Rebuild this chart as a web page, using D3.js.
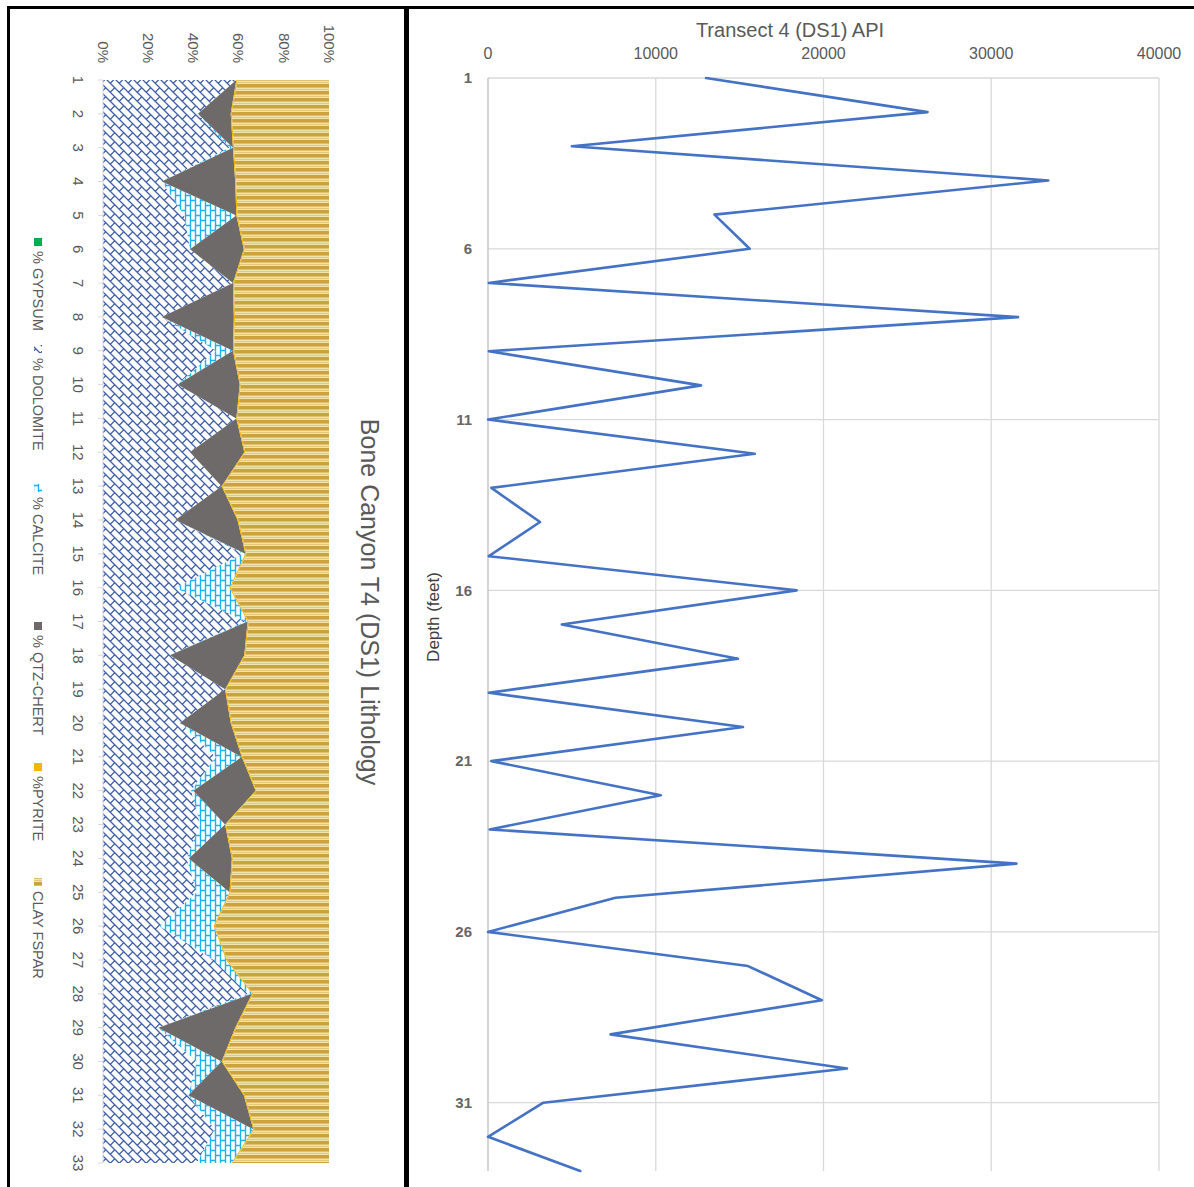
<!DOCTYPE html>
<html>
<head>
<meta charset="utf-8">
<script src="https://cdn.jsdelivr.net/npm/d3@7"></script>
<style>
  body { margin: 0; background: #fff; }
  svg { display: block; }
  text { font-family: "Liberation Sans", Arial, sans-serif; fill: #595959; }
</style>
</head>
<body>
<svg id="chart" width="1194" height="1187"></svg>
<script>
// ---- Lithology (percent of sample) by depth ----
const depths = [1,2,3,4,5,6,7,8,9,10,11,12,13,14,15,16,17,18,19,20,21,22,23,24,25,26,27,28,29,30,31,32,33];
const gypsum   = [0,0,0,0,0,0,0,0,0,0,0,0,0,0,0,0,0,0,0,0,0,0,0,0,0,0,0,0,0,0,0,0,0];
const dolomite = [59,42,56,26,36,38.5,57.5,26,50,33,59,38.5,52.5,32,62,32,63,29.6,54,34,50,39,43,37,41.5,25,49,64,24.5,41.5,37.8,49.5,41.5];
const calcite  = [0,0,1.5,0,23,0,0,0,7.5,0,0,0,0,0,1,24,1,0,0,0,11.4,1,11,1,14.5,24,5.5,2,0,11,0,17,15.5];
const qtzChert = [0,14.5,0,32.5,0,23.8,0,31.9,0,27.5,0,24,0,27.5,0,0,0,32.9,0,22.5,0,27.5,0,19,0,0,0,0,34,0,24.5,0,0];
const pyrite   = [0.5,0.5,0.5,0.5,0.5,0.5,0.5,0.5,0.5,0.5,0.5,0.5,0.5,0.5,0.5,0.5,0.5,0.5,0.5,0.5,0.5,0.5,0.5,0.5,0.5,0.5,0.5,0.5,0.5,0.5,0.5,0.5,0.5];
const clayFspar= [40.5,43,42,41,40.5,37.2,42,41.6,42,39,40.5,37,47,40,36.5,43.5,35.5,37,45.5,43,38.1,32,45.5,42.5,43.5,50.5,45,33.5,41,47,37.2,33,42.5];
const lithoNames = ["% GYPSUM","% DOLOMITE","% CALCITE","% QTZ-CHERT","%PYRITE","CLAY FSPAR"];
const pctTicks = [0,20,40,60,80,100];

// ---- API log by depth ----
const apiValues = [13000,26200,5000,33400,13500,15600,50,31600,50,12700,0,15900,200,3100,50,18400,4400,14900,50,15200,200,10300,100,31500,7600,0,15500,19900,7300,21400,3300,0,5500];
const apiTicks = [0,10000,20000,30000,40000];
const depthTicks = [1,6,11,16,21,26,31];

const svg = d3.select("#chart");
const defs = svg.append("defs");

// helper: draw a path in a pattern tile and its 8 neighbouring copies so it wraps seamlessly
function tiled(g, d, w, h, attrs) {
  for (const dx of [-w, 0, w]) for (const dy of [-h, 0, h]) {
    const p = g.append("path").attr("d", d).attr("transform", `translate(${dx},${dy})`).attr("fill", "none");
    for (const k in attrs) p.attr(k, attrs[k]);
  }
}

// dolomite: diagonal brick
{
  const s = 9;
  const pat = defs.append("pattern").attr("id", "patDol").attr("patternUnits", "userSpaceOnUse")
    .attr("width", s).attr("height", s);
  pat.append("rect").attr("width", s).attr("height", s).attr("fill", "#fff");
  tiled(pat, `M0,0L${s},${s}M${s*0.25},${s*0.25}L${s*0.75},${-s*0.25}`, s, s,
    { stroke: "#3f5fa8", "stroke-width": 1.3 });
}
// calcite: upright brick
{
  const w = 10, h = 10;
  const pat = defs.append("pattern").attr("id", "patCal").attr("patternUnits", "userSpaceOnUse")
    .attr("width", w).attr("height", h);
  pat.append("rect").attr("width", w).attr("height", h).attr("fill", "#fff");
  tiled(pat, `M0.5,0V${h}M5.5,0V${h}M0.5,0.5H5.5M5.5,5.5H10.5`, w, h,
    { stroke: "#1ab2f0", "stroke-width": 1.4 });
}
// clay / feldspar: banded horizontal stripes
{
  const pat = defs.append("pattern").attr("id", "patClay").attr("patternUnits", "userSpaceOnUse")
    .attr("width", 8).attr("height", 7);
  pat.append("rect").attr("width", 8).attr("height", 7).attr("fill", "#f1e3ac");
  pat.append("rect").attr("y", 0).attr("width", 8).attr("height", 3).attr("fill", "#c9a43c");
  pat.append("rect").attr("y", 3).attr("width", 8).attr("height", 1).attr("fill", "#dcc070");
  pat.append("rect").attr("y", 5).attr("width", 8).attr("height", 1).attr("fill", "#e2c97e");
}

const fills = ["#00b050", "url(#patDol)", "url(#patCal)", "#6e6a6a", "#f2b600", "url(#patClay)"];

// ================= Left panel: stacked lithology =================
const left = svg.append("g");
const xPct = d3.scaleLinear().domain([0, 100]).range([103, 329]);
const yDep = d3.scaleLinear().domain([1, 33]).range([80, 1163]);

const rows = depths.map((d, i) => ({
  depth: d, g: gypsum[i], dol: dolomite[i], cal: calcite[i], qtz: qtzChert[i], pyr: pyrite[i], clay: clayFspar[i]
}));
const keys = ["g", "dol", "cal", "qtz", "pyr", "clay"];
const stacked = d3.stack().keys(keys).offset(d3.stackOffsetExpand)(rows);

const area = d3.area()
  .y(d => yDep(d.data.depth))
  .x0(d => xPct(d[0] * 100))
  .x1(d => xPct(d[1] * 100));

left.selectAll("path.layer").data(stacked).join("path")
  .attr("class", "layer")
  .attr("d", area)
  .attr("fill", (d, i) => fills[i]);

// category axis (depth) along the left edge
left.append("line").attr("x1", 103).attr("x2", 103).attr("y1", yDep(1)).attr("y2", yDep(33))
  .attr("stroke", "#d9d9d9").attr("stroke-width", 1);
left.selectAll("line.dtick").data(depths).join("line").attr("class", "dtick")
  .attr("x1", 98).attr("x2", 103).attr("y1", d => yDep(d)).attr("y2", d => yDep(d))
  .attr("stroke", "#d9d9d9");
left.selectAll("text.dlab").data(depths).join("text").attr("class", "dlab")
  .attr("transform", d => `translate(78,${yDep(d)}) rotate(90)`)
  .attr("text-anchor", "middle").attr("dy", "0.35em")
  .style("font-size", "15px")
  .text(d => d);

// percent axis labels along the top
left.selectAll("text.plab").data(pctTicks).join("text").attr("class", "plab")
  .attr("transform", d => `translate(${xPct(d)},63) rotate(90)`)
  .attr("text-anchor", "end").attr("dy", "0.35em")
  .style("font-size", "15px")
  .text(d => d + "%");

// title
left.append("text")
  .attr("transform", `translate(370,602) rotate(90)`)
  .attr("text-anchor", "middle").attr("dy", "0.35em")
  .style("font-size", "25px")
  .text("Bone Canyon T4 (DS1) Lithology");

// legend
{
  const lg = left.append("g").attr("transform", "translate(38,0)");
  const itemStarts = [238, 345, 484, 622, 763, 878];
  lithoNames.forEach((name, i) => {
    const y0 = itemStarts[i];
    lg.append("rect").attr("x", -4).attr("y", y0).attr("width", 8).attr("height", 8).attr("fill", fills[i]);
    lg.append("text").attr("transform", `translate(0,${y0 + 13}) rotate(90)`)
      .attr("dy", "0.35em").style("font-size", "14.5px").text(name);
  });
}

// ================= Right panel: API log =================
const right = svg.append("g");
const xApi = d3.scaleLinear().domain([0, 40000]).range([488, 1159]);
const yApi = d3.scaleLinear().domain([1, 33]).range([78, 1171]);

right.selectAll("line.vg").data(apiTicks.slice(1)).join("line").attr("class", "vg")
  .attr("x1", d => xApi(d)).attr("x2", d => xApi(d)).attr("y1", yApi(1)).attr("y2", yApi(33))
  .attr("stroke", "#d9d9d9").attr("stroke-width", 1.3);
right.selectAll("line.hg").data(depthTicks).join("line").attr("class", "hg")
  .attr("x1", xApi(0)).attr("x2", xApi(40000)).attr("y1", d => yApi(d)).attr("y2", d => yApi(d))
  .attr("stroke", "#d9d9d9").attr("stroke-width", 1.3);
right.append("line").attr("x1", xApi(0)).attr("x2", xApi(0)).attr("y1", yApi(1)).attr("y2", yApi(33))
  .attr("stroke", "#bfbfbf").attr("stroke-width", 1.3);

right.selectAll("text.xl").data(apiTicks).join("text").attr("class", "xl")
  .attr("x", d => xApi(d)).attr("y", 59).attr("text-anchor", "middle")
  .style("font-size", "16px").text(d => d);
right.selectAll("text.yl").data(depthTicks).join("text").attr("class", "yl")
  .attr("x", 472).attr("y", d => yApi(d)).attr("dy", "0.35em").attr("text-anchor", "end")
  .style("font-size", "15px").style("font-weight", "bold").style("fill", "#666").text(d => d);

right.append("text").attr("x", 790).attr("y", 37).attr("text-anchor", "middle")
  .style("font-size", "20px").text("Transect 4 (DS1) API");
right.append("text").attr("transform", "translate(433,617) rotate(-90)")
  .attr("text-anchor", "middle").attr("dy", "0.35em")
  .style("font-size", "17px").style("fill", "#404040").text("Depth (feet)");

const line = d3.line().x(d => xApi(d.v)).y(d => yApi(d.depth));
right.append("path")
  .datum(depths.map((d, i) => ({ depth: d, v: apiValues[i] })))
  .attr("d", line).attr("fill", "none").attr("stroke", "#4472c4").attr("stroke-width", 2.6)
  .attr("stroke-linejoin", "round").attr("stroke-linecap", "round");

// ================= Frame =================
svg.append("rect").attr("x", 7).attr("y", 6).attr("width", 1190).attr("height", 3).attr("fill", "#000");
svg.append("rect").attr("x", 7).attr("y", 6).attr("width", 3).attr("height", 1185).attr("fill", "#000");
svg.append("rect").attr("x", 404).attr("y", 6).attr("width", 5).attr("height", 1185).attr("fill", "#000");
</script>
</body>
</html>
